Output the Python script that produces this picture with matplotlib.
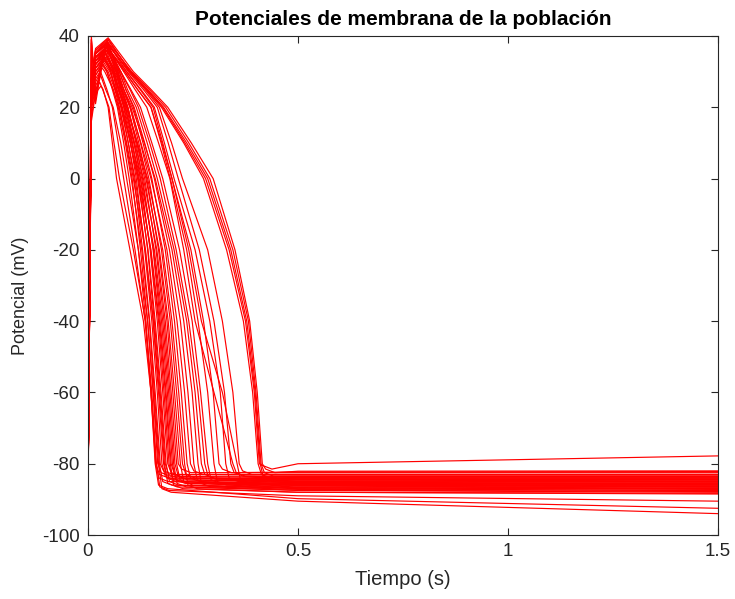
import matplotlib
matplotlib.use("Agg")
import matplotlib.pyplot as plt

plt.rcParams['axes.unicode_minus'] = False
plt.rcParams['font.family'] = ['Liberation Sans', 'DejaVu Sans']

# Action potentials of the cell population: each trace is described by
# the voltage levels it crosses and the times at which it crosses them.
v_start = [-89, -90, -88, -91, -89, -90, -88, -90, -89, -91, -90, -89, -88, -90, -91,
           -89, -90, -88, -91, -89, -90, -88, -90, -89, -91, -90, -89, -88, -90, -91,
           -89, -90, -88, -91, -89, -90, -88, -90, -89, -90, -91, -89, -90, -88]
v_up = [20, 39, 17, 24, 22, 25, 19, 40, 23, 21, 39, 24, 16, 27, 25,
        22, 28, 25, 21, 26, 23, 27, 24, 26, 22, 27, 24, 25, 23, 26,
        27, 25, 26, 26, 27, 26, 27, 26, 28, 27, 38, 27, 28, 27]
v_notch = [27, 22, 25, 32, 29, 33, 26, 24, 31, 28, 21, 32, 24, 35, 33,
           30, 36, 33, 29, 34, 31, 35, 32, 34, 30, 35, 32, 33, 31, 34,
           35, 33, 34, 34, 35, 34, 35, 34, 36, 35, 23, 35.5, 36.5, 35]
peak_t = [0.030, 0.032, 0.028, 0.035, 0.033, 0.038, 0.030, 0.040, 0.036, 0.034,
          0.042, 0.037, 0.031, 0.044, 0.039, 0.035, 0.045, 0.040, 0.036, 0.043,
          0.038, 0.046, 0.041, 0.044, 0.039, 0.047, 0.042, 0.045, 0.043, 0.046,
          0.045, 0.043, 0.046, 0.044, 0.047, 0.045, 0.048, 0.046, 0.049,
          0.045, 0.047, 0.046, 0.048, 0.044]
peak_v = [30, 33, 27, 35, 32, 36, 29, 37, 34, 31, 38, 35, 26, 38, 36,
          33, 39, 36, 32, 37, 34, 38, 35, 37, 33, 38, 35, 36, 34, 37,
          38, 36, 37, 37, 38, 37, 38, 37, 39, 38, 39, 38.5, 39.5, 38]

# crossing times (s) on the way down; None where the trace never gets that high
t_p30 = [None, 0.045, None, 0.055, 0.045, 0.060, None, 0.063, 0.054, 0.040,
         0.067, 0.058, None, 0.068, 0.061, 0.052, 0.071, 0.062, 0.048, 0.067,
         0.058, 0.072, 0.064, 0.070, 0.058, 0.075, 0.067, 0.074, 0.068, 0.078,
         0.078, 0.078, 0.085, 0.088, 0.092, 0.092, 0.096, 0.088, 0.100,
         0.098, 0.102, 0.104, 0.108, 0.100]
t_p25 = [0.045, 0.058, 0.035, 0.064, 0.060, 0.068, 0.042, 0.073, 0.066, 0.060,
         0.076, 0.069, 0.036, 0.079, 0.072, 0.066, 0.081, 0.074, 0.064, 0.080,
         0.072, 0.085, 0.078, 0.085, 0.074, 0.090, 0.082, 0.090, 0.085, 0.094,
         0.100, 0.102, 0.112, 0.118, 0.124, 0.126, 0.132, 0.118, 0.136,
         0.138, 0.142, 0.146, 0.150, 0.140]
t_p20 = [0.058, 0.070, 0.050, 0.075, 0.072, 0.080, 0.060, 0.085, 0.078, 0.074,
         0.090, 0.082, 0.048, 0.092, 0.086, 0.080, 0.095, 0.088, 0.080, 0.095,
         0.088, 0.100, 0.094, 0.102, 0.092, 0.108, 0.100, 0.110, 0.105, 0.115,
         0.120, 0.125, 0.140, 0.150, 0.155, 0.158, 0.165, 0.150, 0.170,
         0.175, 0.180, 0.185, 0.190, 0.178]
t_p10 = [0.072, 0.085, 0.062, 0.091, 0.089, 0.096, 0.078, 0.101, 0.096, 0.092,
         0.106, 0.101, 0.058, 0.110, 0.105, 0.101, 0.114, 0.109, 0.104, 0.116,
         0.111, 0.121, 0.117, 0.125, 0.118, 0.131, 0.126, 0.135, 0.134, 0.141,
         0.147, 0.152, 0.168, 0.174, 0.178, 0.182, 0.191, 0.176, 0.199,
         0.228, 0.235, 0.240, 0.246, 0.231]
t_0 = [0.085, 0.098, 0.075, 0.105, 0.103, 0.110, 0.092, 0.115, 0.112, 0.108,
       0.120, 0.118, 0.068, 0.125, 0.122, 0.120, 0.130, 0.128, 0.125, 0.135,
       0.132, 0.140, 0.138, 0.145, 0.142, 0.152, 0.150, 0.158, 0.160, 0.165,
       0.172, 0.178, 0.195, 0.196, 0.200, 0.205, 0.215, 0.200, 0.225,
       0.275, 0.285, 0.290, 0.298, 0.280]
t_m20 = [0.112, 0.120, 0.108, 0.125, 0.128, 0.130, 0.120, 0.135, 0.137, 0.136,
         0.142, 0.143, 0.100, 0.148, 0.149, 0.150, 0.155, 0.156, 0.158, 0.162,
         0.164, 0.168, 0.170, 0.175, 0.178, 0.184, 0.188, 0.194, 0.200, 0.205,
         0.210, 0.218, 0.228, 0.235, 0.245, 0.255, 0.265, 0.240, 0.285,
         0.330, 0.340, 0.345, 0.350, 0.336]
t_m40 = [0.136, 0.138, 0.137, 0.142, 0.146, 0.147, 0.142, 0.152, 0.155, 0.156,
         0.158, 0.160, 0.132, 0.165, 0.168, 0.170, 0.172, 0.175, 0.178, 0.181,
         0.184, 0.188, 0.191, 0.196, 0.200, 0.206, 0.212, 0.220, 0.228, 0.235,
         0.240, 0.248, 0.255, 0.262, 0.275, 0.290, 0.300, 0.270, 0.320,
         0.370, 0.378, 0.382, 0.385, 0.375]
t_m60 = [0.150, 0.150, 0.152, 0.155, 0.158, 0.160, 0.156, 0.165, 0.168, 0.170,
         0.172, 0.174, 0.150, 0.178, 0.181, 0.184, 0.186, 0.189, 0.192, 0.195,
         0.198, 0.202, 0.206, 0.211, 0.216, 0.222, 0.230, 0.238, 0.248, 0.255,
         0.262, 0.268, 0.300, 0.285, 0.298, 0.315, 0.325, 0.320, 0.345,
         0.392, 0.398, 0.400, 0.403, 0.396]
t_m80 = [0.161, 0.162, 0.163, 0.166, 0.170, 0.172, 0.168, 0.176, 0.180, 0.182,
         0.184, 0.186, 0.160, 0.190, 0.193, 0.196, 0.198, 0.201, 0.204, 0.207,
         0.211, 0.215, 0.220, 0.225, 0.230, 0.236, 0.244, 0.252, 0.262, 0.270,
         0.278, 0.285, 0.345, 0.300, 0.312, 0.328, 0.340, 0.355, 0.360,
         0.405, 0.410, 0.412, 0.415, 0.408]
v_knee = [-85.0, -84.0, -87.5, -83.5, -86.0, -83.0, -88.0, -84.5, -85.0, -86.5,
          -84.0, -86.0, -87.0, -83.5, -85.0, -87.0, -84.0, -85.5, -86.5, -84.5,
          -85.5, -82.5, -86.0, -84.0, -87.0, -85.0, -83.0, -85.5, -86.5, -84.0,
          -84.5, -85.5, -83.5, -86.0, -82.5, -85.0, -83.5, -85.5, -83.0,
          -84.0, -85.0, -83.5, -82.5, -81.5]
v_mid = [-86.0, -84.8, -89.0, -84.0, -87.0, -83.0, -90.5, -85.2, -85.8, -87.5,
         -84.4, -86.8, -89.8, -83.5, -85.6, -88.0, -84.2, -86.5, -87.4, -85.0,
         -86.0, -82.5, -86.8, -84.6, -88.0, -85.5, -83.2, -86.3, -87.2, -84.4,
         -84.9, -86.1, -83.7, -86.7, -82.3, -85.3, -83.9, -85.9, -83.0,
         -84.3, -85.6, -83.6, -82.1, -80.0]
v_end = [-86.5, -85.0, -90.5, -84.0, -87.5, -83.0, -94.0, -85.5, -86.0, -88.0,
         -84.5, -87.0, -92.5, -83.5, -85.8, -88.3, -84.2, -86.8, -87.8, -85.2,
         -86.2, -82.5, -87.2, -84.8, -88.5, -85.6, -83.2, -86.6, -87.5, -84.6,
         -85.0, -86.4, -83.8, -87.0, -82.2, -85.4, -84.0, -86.0, -83.0,
         -84.4, -85.8, -83.6, -82.0, -77.8]

levels = [30, 25, 20, 10, 0, -20, -40, -60, -80]
t_up, t_notch, t_mid, t_end = 0.008, 0.018, 0.5, 1.5

fig = plt.figure(figsize=(7.35, 5.99), dpi=100)
ax = fig.add_axes([0.1197, 0.1068, 0.8572, 0.8331])

for i in range(len(v_start)):
    t = [0, t_up, t_notch, peak_t[i]]
    v = [v_start[i], v_up[i], v_notch[i], peak_v[i]]
    crossings = [t_p30[i], t_p25[i], t_p20[i], t_p10[i], t_0[i],
                 t_m20[i], t_m40[i], t_m60[i], t_m80[i]]
    for tc, lv in zip(crossings, levels):
        if tc is not None:
            t.append(tc)
            v.append(lv)
    t += [t_m80[i] + 0.008, t_m80[i] + 0.03, t_mid, t_end]
    v += [v_knee[i] + 1, v_knee[i], v_mid[i], v_end[i]]
    ax.plot(t, v, color=(1, 0, 0), lw=0.85)

ax.set_xlim(0, 1.5)
ax.set_ylim(-100, 40)
ax.set_xticks([0, 0.5, 1, 1.5])
ax.set_xticklabels(['0', '0.5', '1', '1.5'])
ax.set_yticks(range(-100, 41, 20))

dark = '#262626'
for s in ax.spines.values():
    s.set_color(dark)
    s.set_linewidth(0.8)
ax.tick_params(direction='in', top=True, right=True, length=5, width=0.8,
               colors=dark, labelsize=13.5, pad=6)

ax.set_title('Potenciales de membrana de la población', fontsize=15,
             fontweight='bold', color='black', pad=8)
ax.set_xlabel('Tiempo (s)', fontsize=14.5, color=dark, labelpad=7)
ax.set_ylabel('Potencial (mV)', fontsize=13, color=dark)
ax.yaxis.set_label_coords(-0.094, 0.48)

fig.savefig('out.png', dpi=100)
